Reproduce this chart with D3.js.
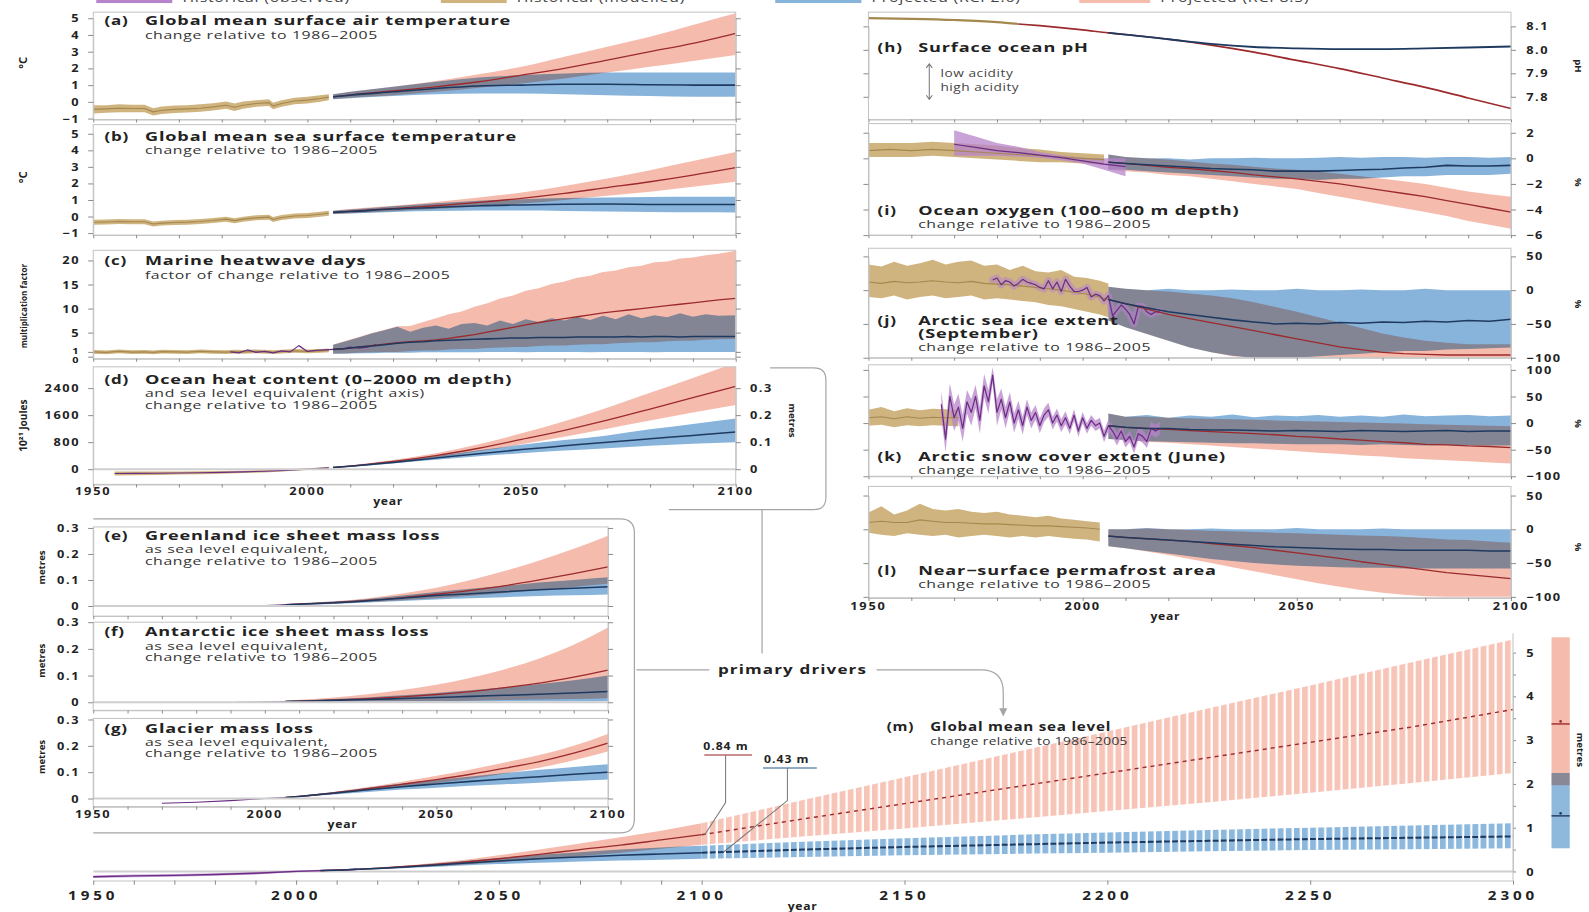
<!DOCTYPE html>
<html><head><meta charset="utf-8">
<script src="https://cdn.jsdelivr.net/npm/d3@7"></script>
<style>
html,body{margin:0;padding:0;background:#fff;overflow:hidden}
text{font-family:"Open Sans","Noto Sans",sans-serif}
</style></head><body>
<script>
// ---------------- DATA ----------------
const legendLabels=['Historical (observed)','Historical (modelled)','Projected (RCP2.6)','Projected (RCP8.5)'];
const histYears=[1950,1953,1956,1959,1962,1964,1966,1969,1972,1975,1978,1981,1983,1985,1988,1991,1992,1994,1997,2000,2003,2005];
const histYears5=[1950,1955,1960,1965,1970,1975,1980,1985,1990,1995,2000,2005];
const projYears10=[2006,2010,2020,2030,2040,2050,2060,2070,2080,2090,2100];
const projYears5=[2006,2010,2015,2020,2025,2030,2035,2040,2045,2050,2055,2060,2065,2070,2075,2080,2085,2090,2095,2100];
const xTickYears=[1950,2000,2050,2100];
const mTickYears=[1950,2000,2050,2100,2150,2200,2250,2300];

// (a) surface air temperature
const a_histMid=[-0.45,-0.42,-0.38,-0.4,-0.4,-0.6,-0.5,-0.45,-0.42,-0.38,-0.3,-0.2,-0.32,-0.2,-0.1,-0.05,-0.25,-0.1,0.05,0.1,0.2,0.28];
const a_histLo=[-0.7,-0.65,-0.62,-0.63,-0.62,-0.82,-0.72,-0.66,-0.64,-0.6,-0.52,-0.42,-0.55,-0.42,-0.3,-0.25,-0.45,-0.3,-0.15,-0.1,0.0,0.1];
const a_histHi=[-0.2,-0.2,-0.15,-0.18,-0.18,-0.38,-0.28,-0.22,-0.2,-0.15,-0.08,0.02,-0.1,0.02,0.1,0.15,-0.05,0.1,0.25,0.3,0.4,0.45];
const a_26Mid=[0.3,0.4,0.6,0.8,0.95,1.0,1.05,1.05,1.02,1.0,1.0];
const a_26Lo=[0.15,0.22,0.35,0.45,0.5,0.5,0.45,0.4,0.35,0.3,0.3];
const a_26Hi=[0.45,0.6,0.9,1.2,1.45,1.6,1.7,1.75,1.75,1.75,1.75];
const a_85Mid=[0.3,0.42,0.65,0.9,1.2,1.6,2.0,2.5,3.0,3.5,4.1];
const a_85Lo=[0.15,0.25,0.4,0.6,0.85,1.1,1.4,1.75,2.1,2.45,2.8];
const a_85Hi=[0.45,0.6,0.9,1.25,1.65,2.1,2.7,3.3,3.9,4.6,5.3];
// (b) sea surface temperature
const b_histMid=[-0.35,-0.33,-0.3,-0.32,-0.32,-0.45,-0.4,-0.36,-0.34,-0.3,-0.24,-0.16,-0.25,-0.16,-0.08,-0.04,-0.18,-0.06,0.03,0.06,0.14,0.2];
const b_histLo=[-0.5,-0.48,-0.45,-0.47,-0.47,-0.6,-0.55,-0.51,-0.49,-0.45,-0.39,-0.31,-0.4,-0.31,-0.23,-0.19,-0.33,-0.21,-0.12,-0.09,-0.01,0.05];
const b_histHi=[-0.2,-0.18,-0.15,-0.17,-0.17,-0.3,-0.25,-0.21,-0.19,-0.15,-0.09,-0.01,-0.1,-0.01,0.07,0.11,-0.03,0.09,0.18,0.21,0.29,0.35];
const b_26Mid=[0.25,0.3,0.45,0.55,0.65,0.7,0.74,0.75,0.73,0.72,0.72];
const b_26Lo=[0.15,0.18,0.28,0.33,0.36,0.36,0.34,0.3,0.28,0.26,0.25];
const b_26Hi=[0.35,0.42,0.62,0.8,0.95,1.05,1.12,1.15,1.18,1.2,1.2];
const b_85Mid=[0.25,0.32,0.48,0.65,0.85,1.1,1.4,1.75,2.1,2.5,2.95];
const b_85Lo=[0.15,0.2,0.32,0.45,0.6,0.78,1.0,1.25,1.5,1.8,2.1];
const b_85Hi=[0.35,0.45,0.65,0.88,1.15,1.45,1.85,2.3,2.8,3.35,3.9];
// (c) marine heatwave days
const c_histMid=[1.0,0.9,1.1,0.95,1.0,0.9,1.05,1.0,0.95,1.1,1.0,0.95,1.05,1.0,1.1,1.0,0.95,1.05,1.2,1.1,1.2,1.3];
const c_histLo=[0.6,0.5,0.7,0.55,0.6,0.5,0.65,0.6,0.55,0.7,0.6,0.55,0.65,0.6,0.7,0.6,0.55,0.65,0.8,0.7,0.8,0.9];
const c_histHi=[1.4,1.3,1.5,1.35,1.4,1.3,1.45,1.4,1.35,1.5,1.4,1.35,1.45,1.4,1.5,1.4,1.35,1.45,1.6,1.5,1.6,1.7];
const c_obsYears=[1982,1984,1986,1988,1990,1992,1994,1996,1998,2000,2002,2004,2006,2008,2010,2012,2014,2016];
const c_obsVals=[1.0,0.8,1.4,0.9,1.1,0.8,1.2,1.0,2.3,1.1,1.3,1.4,1.5,1.6,2.0,1.8,2.0,2.5];
const c_projYears=[2006,2009,2012,2015,2018,2021,2024,2027,2030,2033,2036,2039,2042,2045,2048,2051,2054,2057,2060,2063,2066,2069,2072,2075,2078,2081,2084,2087,2090,2093,2096,2100];
const c_26Mid=[1.5,1.7,2.0,2.2,2.5,2.8,3.0,3.1,3.3,3.4,3.5,3.6,3.7,3.8,3.9,3.9,4.0,4.0,4.0,4.1,4.1,4.1,4.1,4.2,4.1,4.2,4.2,4.1,4.2,4.2,4.2,4.2];
const c_26Lo=[0.6,0.6,0.7,0.7,0.8,0.8,0.8,0.9,0.9,0.9,0.9,0.9,1.0,1.0,1.0,0.9,1.0,1.0,1.0,1.0,0.9,1.0,1.0,1.0,1.0,0.9,1.0,1.0,1.0,1.0,1.0,1.0];
const c_26Hi=[2.5,3.2,4.0,4.8,5.5,6.2,5.2,6.0,6.5,5.8,6.8,7.0,6.5,7.5,6.8,7.8,7.2,8.0,7.5,8.3,7.6,8.5,7.8,8.8,8.0,8.6,8.2,9.0,8.3,8.8,8.5,8.6];
const c_85Mid=[1.5,1.7,2.0,2.3,2.6,2.9,3.1,3.3,3.5,3.8,4.2,4.6,5.1,5.6,6.1,6.6,7.1,7.5,7.9,8.3,8.7,9.1,9.4,9.7,10.0,10.3,10.6,10.9,11.2,11.5,11.8,12.1];
const c_85Lo=[0.6,0.7,0.8,0.9,1.0,1.0,1.2,1.3,1.3,1.5,1.6,1.6,1.8,1.9,2.0,2.0,2.2,2.3,2.3,2.5,2.6,2.6,2.8,2.9,3.0,3.0,3.2,3.3,3.3,3.5,3.6,3.7];
const c_85Hi=[2.5,3.3,4.1,4.9,5.6,6.3,6.4,7.2,8.0,8.8,9.4,10.4,11.1,12.1,12.7,13.7,14.2,15.1,15.6,16.4,16.8,17.6,17.9,18.6,18.9,19.6,19.8,20.4,20.6,21.1,21.4,22.0];
// (d) ocean heat content
const d_histYears=[1955,1960,1965,1970,1975,1980,1985,1990,1995,2000,2005];
const d_histMid=[-130,-125,-120,-115,-105,-95,-80,-60,-35,0,40];
const d_histLo=[-190,-180,-170,-160,-150,-135,-115,-95,-65,-25,15];
const d_histHi=[-70,-70,-70,-70,-60,-55,-45,-25,-5,25,65];
const d_26Mid=[50,90,200,330,460,580,690,800,900,1000,1100];
const d_26Lo=[30,70,170,280,380,470,550,620,690,750,800];
const d_26Hi=[70,110,240,390,560,720,860,1000,1180,1340,1500];
const d_85Mid=[50,90,230,400,620,880,1150,1450,1780,2120,2450];
const d_85Lo=[30,70,200,350,530,740,960,1200,1440,1680,1900];
const d_85Hi=[70,115,270,470,740,1060,1420,1820,2260,2700,3150];
// (e) Greenland
const e_histYears=[1992,1996,2000,2004,2006];
const e_histMid=[0.0,0.0,0.002,0.004,0.005];
const e_26Mid=[0.005,0.007,0.012,0.02,0.03,0.04,0.047,0.055,0.062,0.068,0.074];
const e_26Lo=[0.003,0.004,0.008,0.013,0.019,0.025,0.03,0.034,0.038,0.041,0.044];
const e_26Hi=[0.007,0.01,0.017,0.027,0.04,0.054,0.066,0.078,0.09,0.1,0.11];
const e_85Mid=[0.005,0.007,0.013,0.021,0.032,0.045,0.06,0.078,0.1,0.124,0.15];
const e_85Lo=[0.003,0.005,0.009,0.015,0.022,0.03,0.039,0.05,0.062,0.073,0.085];
const e_85Hi=[0.007,0.01,0.018,0.03,0.048,0.07,0.1,0.135,0.175,0.22,0.27];
// (f) Antarctic
const f_histYears=[1992,1996,2000,2004,2006];
const f_histMid=[0.0,0.0,0.001,0.002,0.003];
const f_26Mid=[0.003,0.004,0.007,0.01,0.014,0.018,0.022,0.026,0.03,0.035,0.04];
const f_26Lo=[0.001,0.001,0.002,0.002,0.003,0.003,0.003,0.004,0.004,0.004,0.005];
const f_26Hi=[0.005,0.007,0.012,0.018,0.026,0.035,0.045,0.056,0.068,0.082,0.1];
const f_85Mid=[0.003,0.004,0.008,0.013,0.02,0.029,0.04,0.055,0.072,0.094,0.12];
const f_85Lo=[0.001,0.001,0.002,0.003,0.004,0.005,0.006,0.008,0.01,0.012,0.015];
const f_85Hi=[0.006,0.009,0.018,0.03,0.046,0.066,0.092,0.124,0.164,0.215,0.28];
// (g) glaciers
const g_histYears=[1970,1980,1990,2000,2006];
const g_histMid=[-0.018,-0.014,-0.008,0.0,0.004];
const g_26Mid=[0.004,0.008,0.02,0.033,0.045,0.055,0.065,0.074,0.083,0.092,0.1];
const g_26Lo=[0.003,0.006,0.015,0.025,0.034,0.041,0.048,0.054,0.06,0.066,0.072];
const g_26Hi=[0.005,0.01,0.025,0.041,0.057,0.071,0.084,0.097,0.109,0.12,0.13];
const g_85Mid=[0.004,0.008,0.021,0.037,0.054,0.072,0.092,0.115,0.14,0.172,0.21];
const g_85Lo=[0.003,0.006,0.017,0.03,0.044,0.058,0.075,0.095,0.117,0.145,0.178];
const g_85Hi=[0.005,0.01,0.025,0.044,0.064,0.086,0.11,0.137,0.165,0.2,0.245];
// (h) pH
const h_histYears=[1950,1960,1970,1980,1985];
const h_histMid=[8.135,8.132,8.127,8.118,8.11];
const h_85Years=[1985,1990,2000,2006,2010,2020,2030,2040,2050,2060,2070,2080,2090,2100];
const h_85Mid=[8.11,8.103,8.085,8.072,8.065,8.045,8.02,7.99,7.955,7.92,7.88,7.84,7.795,7.75];
const h_26Mid=[8.072,8.065,8.045,8.025,8.012,8.006,8.003,8.003,8.006,8.01,8.014];
// (i) oxygen
const i_histMid=[0.6,0.7,0.6,0.7,0.6,0.5,0.4,0.3,0.2,0.1,0.0,-0.1];
const i_histLo=[0.1,0.1,0.1,0.2,0.1,0.0,-0.1,-0.2,-0.3,-0.3,-0.4,-0.5];
const i_histHi=[1.2,1.2,1.2,1.3,1.2,1.1,1.0,0.8,0.7,0.5,0.4,0.3];
const i_obsYears=[1970,1975,1980,1985,1990,1995,2000,2005,2010];
const i_obsMid=[1.1,0.85,0.6,0.45,0.25,0.05,-0.2,-0.45,-0.65];
const i_obsLo=[0.2,0.2,0.2,0.15,0.05,-0.15,-0.4,-0.9,-1.4];
const i_obsHi=[2.2,1.7,1.2,0.9,0.5,0.25,0.05,0.0,0.0];
const i_26Mid=[-0.3,-0.4,-0.5,-0.6,-0.7,-0.8,-0.85,-0.9,-1.0,-1.0,-1.0,-0.95,-0.9,-0.85,-0.75,-0.7,-0.55,-0.6,-0.6,-0.55];
const i_26Lo=[-0.9,-0.9,-1.0,-1.1,-1.2,-1.3,-1.4,-1.5,-1.6,-1.6,-1.7,-1.6,-1.6,-1.5,-1.4,-1.4,-1.3,-1.3,-1.3,-1.2];
const i_26Hi=[0.3,0.1,0.0,0.0,-0.1,0.0,0.0,0.05,0.0,0.0,0.05,0.1,0.05,0.1,0.1,0.05,0.1,0.1,0.05,0.1];
const i_85Mid=[-0.3,-0.4,-0.55,-0.7,-0.8,-0.95,-1.1,-1.3,-1.45,-1.6,-1.8,-2.0,-2.25,-2.5,-2.75,-3.0,-3.3,-3.6,-3.9,-4.2];
const i_85Lo=[-0.9,-1.0,-1.1,-1.3,-1.4,-1.6,-1.8,-2.0,-2.2,-2.4,-2.7,-3.0,-3.3,-3.6,-3.9,-4.2,-4.5,-4.9,-5.2,-5.5];
const i_85Hi=[0.3,0.1,0.0,-0.1,-0.25,-0.4,-0.5,-0.65,-0.8,-0.9,-1.05,-1.2,-1.4,-1.6,-1.8,-2.0,-2.3,-2.6,-2.8,-3.0];
// (j) Arctic sea ice
const j_histYears=[1950,1953,1956,1959,1962,1965,1968,1971,1974,1977,1980,1983,1986,1989,1992,1995,1998,2001,2004,2006];
const j_histMid=[12,10,13,11,12,14,12,11,13,10,9,8,6,4,2,0,-3,-6,-10,-14];
const j_histLo=[-10,-12,-8,-14,-10,-8,-12,-10,-8,-14,-12,-14,-16,-18,-22,-24,-28,-32,-36,-40];
const j_histHi=[38,35,42,36,40,45,38,42,44,36,38,30,36,28,26,30,20,18,14,10];
const j_obsYears=d3.range(1979,2019);
const j_obsVals=[15,18,8,14,12,6,10,16,12,10,8,4,2,14,2,12,-2,16,6,-2,-2,0,4,-10,-6,-8,-16,-8,-38,-30,-22,-28,-36,-50,-24,-24,-32,-36,-32,-32];
const j_26Mid=[-14,-20,-26,-32,-36,-40,-44,-47,-50,-49,-50,-48,-49,-47,-48,-46,-47,-45,-46,-43];
const j_26Lo=[-45,-55,-65,-75,-85,-92,-97,-100,-100,-100,-98,-96,-94,-92,-90,-90,-88,-87,-86,-85];
const j_26Hi=[5,2,0,2,0,0,1,0,0,2,0,0,1,0,0,2,0,0,0,0];
const j_85Mid=[-14,-20,-28,-36,-42,-48,-54,-60,-66,-72,-78,-84,-88,-92,-94,-95,-96,-96,-96,-96];
const j_85Lo=[-45,-55,-65,-75,-85,-92,-98,-100,-100,-100,-100,-100,-100,-100,-100,-100,-100,-100,-100,-100];
const j_85Hi=[5,2,0,-2,-5,-8,-12,-18,-25,-32,-40,-48,-56,-64,-70,-75,-78,-80,-80,-80];
// (k) Arctic snow cover
const k_histYears=[1950,1953,1956,1959,1962,1965,1968,1971];
const k_histMid=[10,12,8,12,9,11,10,10];
const k_histLo=[-5,-3,-8,-4,-6,-4,-5,-6];
const k_histHi=[25,30,22,28,24,27,26,24];
const k_obsYears=d3.range(1967,2019);
const k_obsVals=[35,-30,50,10,30,-10,40,20,50,5,70,40,90,20,45,10,40,0,25,-5,30,5,20,-5,15,25,0,15,-5,10,-10,15,-15,10,-10,5,-5,0,-25,-5,-15,-30,-15,-35,-25,-45,-20,-25,-35,-10,-15,-10];
const k_obsHi=[60,-5,75,35,55,15,62,45,72,30,92,62,105,45,65,30,58,18,42,12,45,20,34,9,28,38,12,27,7,22,1,26,-4,21,0,15,5,10,-14,6,-4,-18,-4,-24,-14,-33,-8,-13,-23,2,-3,2];
const k_obsLo=[10,-55,25,-15,5,-35,18,-5,28,-20,48,18,75,-5,25,-10,22,-18,8,-22,15,-10,6,-19,2,12,-12,3,-17,-2,-21,4,-26,-1,-20,-5,-15,-10,-36,-16,-26,-42,-26,-46,-36,-57,-32,-37,-47,-22,-27,-22];
const k_26Mid=[-5,-8,-10,-10,-12,-13,-13,-14,-15,-14,-15,-16,-14,-15,-16,-15,-14,-16,-15,-15];
const k_26Lo=[-30,-32,-34,-35,-36,-37,-38,-38,-39,-40,-40,-40,-41,-40,-41,-42,-41,-42,-42,-42];
const k_26Hi=[18,12,15,10,14,12,16,11,14,13,15,12,14,12,16,13,14,15,13,14];
const k_85Mid=[-5,-8,-10,-12,-14,-16,-18,-20,-22,-25,-27,-30,-32,-35,-37,-40,-41,-43,-44,-46];
const k_85Lo=[-30,-32,-35,-37,-40,-42,-45,-48,-50,-53,-56,-58,-61,-63,-66,-68,-70,-72,-74,-76];
const k_85Hi=[18,12,12,10,9,8,7,6,5,4,3,2,1,0,-1,-2,-3,-4,-5,-6];
// (l) permafrost
const l_histYears=[1950,1953,1956,1959,1962,1965,1968,1971,1974,1977,1980,1983,1986,1989,1992,1995,1998,2001,2004];
const l_histMid=[10,12,10,10,14,12,10,10,9,8,8,7,6,5,5,4,3,2,0];
const l_histLo=[-5,-8,-10,-6,-8,-10,-8,-12,-10,-8,-10,-12,-10,-12,-10,-12,-14,-15,-18];
const l_histHi=[25,34,22,28,38,30,28,30,26,24,26,22,20,18,20,16,14,12,10];
const l_26Mid=[-10,-12,-14,-16,-18,-20,-22,-24,-26,-27,-28,-29,-30,-30,-31,-31,-31,-31,-32,-32];
const l_26Lo=[-25,-28,-32,-36,-40,-44,-47,-50,-52,-54,-55,-56,-57,-57,-58,-58,-58,-58,-58,-58];
const l_26Hi=[0,0,2,0,0,1,0,0,0,2,0,0,0,1,0,0,0,0,0,0];
const l_85Mid=[-10,-12,-14,-16,-18,-21,-24,-27,-31,-35,-39,-43,-48,-52,-56,-60,-64,-67,-70,-73];
const l_85Lo=[-25,-28,-33,-38,-44,-50,-56,-62,-68,-74,-80,-85,-90,-94,-97,-99,-100,-100,-100,-100];
const l_85Hi=[0,0,1,0,-1,-2,-3,-4,-5,-6,-7,-8,-9,-10,-11,-13,-15,-16,-18,-20];
// (m) global mean sea level
const m_obsYears=[1950,1960,1970,1980,1990,2000,2010,2015];
const m_obsMid=[-0.12,-0.1,-0.09,-0.07,-0.04,0.0,0.03,0.05];
const m_obsLo=[-0.15,-0.13,-0.12,-0.1,-0.07,-0.02,0.01,0.03];
const m_obsHi=[-0.09,-0.07,-0.06,-0.04,-0.01,0.02,0.05,0.07];
const m_26Mid=[0.02,0.03,0.07,0.12,0.18,0.24,0.29,0.33,0.37,0.4,0.43];
const m_26Lo=[0.01,0.02,0.05,0.09,0.13,0.17,0.2,0.23,0.25,0.27,0.29];
const m_26Hi=[0.03,0.04,0.09,0.15,0.23,0.31,0.38,0.44,0.5,0.55,0.59];
const m_85Mid=[0.02,0.03,0.07,0.13,0.2,0.29,0.39,0.5,0.6,0.72,0.84];
const m_85Lo=[0.01,0.02,0.05,0.1,0.15,0.21,0.28,0.35,0.43,0.52,0.61];
const m_85Hi=[0.03,0.04,0.09,0.16,0.25,0.37,0.5,0.64,0.78,0.93,1.1];
const m_longYears=[2100,2125,2150,2175,2200,2225,2250,2275,2300];
const m_85LongMid=[0.84,1.2,1.55,1.9,2.25,2.6,2.95,3.3,3.7];
const m_85LongLo=[0.61,0.8,0.98,1.18,1.38,1.58,1.8,2.02,2.25];
const m_85LongHi=[1.1,1.63,2.15,2.68,3.2,3.73,4.25,4.78,5.3];
const m_26LongMid=[0.43,0.5,0.56,0.61,0.66,0.7,0.74,0.77,0.8];
const m_26LongLo=[0.29,0.33,0.37,0.4,0.43,0.46,0.49,0.51,0.53];
const m_26LongHi=[0.59,0.68,0.76,0.83,0.89,0.95,1.0,1.05,1.1];
const m_labels2100=['0.84 m','0.43 m'];
const barScen=['RCP8.5','RCP2.6'];
const barLo=[1.97,0.53];
const barHi=[5.35,2.25];
const barMid=[3.37,1.27];

// ---------------- DRAWING ----------------
const svg=d3.select('body').append('svg').attr('width',1589).attr('height',912)
  .attr('viewBox','0 0 1568 900').attr('preserveAspectRatio','none');
svg.append('rect').attr('width',1568).attr('height',900).attr('fill','#fff');
const defs=svg.append('defs');
let clipN=0;
const COL={red:'#f5bcae',redL:'#9c2a2c',blue:'#88b4db',blueL:'#1f3a60',tan:'#cfb47f',tanL:'#a5884e',
  pur:'#b784cb',purL:'#6b2c82',frame:'#c3c3c3',tick:'#8c8c8c',txt:'#222',line:'#9a9a9a'};

function T(parent,x,y,str,o={}){
  const sx=o.sx??1.25;
  const rot=o.rot?` rotate(${o.rot})`:'';
  return parent.append('text')
    .attr('transform',`translate(${x},${y})${rot} scale(${sx},1)`)
    .attr('text-anchor',o.anchor||'start')
    .attr('font-size',o.fs||10.5)
    .attr('font-weight',o.fw||'normal')
    .attr('fill',o.fill||COL.txt)
    .style('letter-spacing',(o.ls??0.4)+'px')
    .text(str);
}
function styleAxis(sel){
  sel.select('.domain').attr('stroke',COL.frame);
  sel.selectAll('.tick line').attr('stroke',COL.tick);
}
const fmtInt=d3.format('d');
const fmt1=v=>v===0?'0':d3.format('.1f')(v);
const TICKLAB={fs:10.5,fw:'bold',ls:1.3,sx:1.2};

function panel(o){
  const x=d3.scaleLinear().domain(o.xd||[1950,2100]).range([o.x0,o.x1]);
  const y=d3.scaleLinear().domain(o.yd).range(o.yr);
  const id='cp'+(clipN++);
  defs.append('clipPath').attr('id',id).append('rect')
    .attr('x',o.x0).attr('y',o.y0).attr('width',o.x1-o.x0).attr('height',o.y1-o.y0);
  const g=svg.append('g');
  const plot=g.append('g').attr('clip-path',`url(#${id})`).style('isolation','isolate');
  const frame=g.append('g');
  if(o.zero){
    frame.append('line').attr('x1',o.x0).attr('x2',o.x1).attr('y1',y(0)).attr('y2',y(0))
      .attr('stroke','#cfcfcf').attr('stroke-width',2);
  }
  frame.append('rect').attr('x',o.x0).attr('y',o.y0).attr('width',o.x1-o.x0).attr('height',o.y1-o.y0)
    .attr('fill','none').attr('stroke',COL.frame).attr('stroke-width',1);
  frame.append('g').attr('transform',`translate(0,${o.y1})`)
    .call(d3.axisBottom(x).tickValues(d3.range(1950,2101,10)).tickSize(3).tickSizeOuter(0).tickFormat(''))
    .call(styleAxis);
  frame.append('g').attr('transform',`translate(${o.x0},0)`)
    .call(d3.axisLeft(y).tickValues(o.ticks).tickSize(5).tickSizeOuter(0).tickFormat('')).call(styleAxis);
  frame.append('g').attr('transform',`translate(${o.x1},0)`)
    .call(d3.axisRight(y).tickValues(o.ticks).tickSize(5).tickSizeOuter(0).tickFormat('')).call(styleAxis);
  const lab=frame.append('g');
  o.ticks.forEach(v=>{
    const dy=(o.labDy&&o.labDy[v])||0;
    const st=Object.assign({},TICKLAB,(o.labFs&&o.labFs[v])?{fs:o.labFs[v]}:{});
    if(o.side==='right') T(lab,o.x1+15,y(v)+4+dy,o.fmt(v),st);
    else T(lab,o.x0-13,y(v)+4+dy,o.fmt(v),Object.assign({anchor:'end'},st));
  });
  if(o.xlab){
    xTickYears.forEach(v=>T(lab,x(v),o.y1+o.xlab,String(v),{fs:10.5,fw:'bold',ls:1.5,sx:1.2,anchor:'middle'}));
    T(lab,o.yearX,o.y1+o.xlab+10,'year',{fs:10,fw:'bold',ls:0.6,sx:1.2,anchor:'middle'});
  }
  return {x,y,g,plot,frame};
}
function area(p,xs,lo,hi,fill,o={}){
  const a=d3.area().x((d,i)=>p.x(xs[i])).y0((d,i)=>p.y(lo[i])).y1((d,i)=>p.y(hi[i])).curve(o.curve||d3.curveLinear);
  const path=(o.parent||p.plot).append('path').datum(xs).attr('d',a).attr('fill',fill);
  if(o.blend) path.style('mix-blend-mode',o.blend);
  if(o.op) path.attr('fill-opacity',o.op);
  return path;
}
function line(p,xs,ys,stroke,o={}){
  const l=d3.line().x((d,i)=>p.x(xs[i])).y((d,i)=>p.y(ys[i])).curve(o.curve||d3.curveLinear);
  return (o.parent||p.plot).append('path').datum(xs).attr('d',l).attr('fill','none')
    .attr('stroke',stroke).attr('stroke-width',o.w||1.3).attr('stroke-opacity',o.op||1)
    .attr('stroke-linejoin','round').attr('stroke-linecap',o.cap||'butt').attr('stroke-dasharray',o.dash||null);
}
function drawSet(p,s){
  const cv=s.curve||d3.curveMonotoneX;
  if(s.hist&&s.hist.lo) area(p,s.hist.x,s.hist.lo,s.hist.hi,COL.tan);
  if(s.p85&&s.p85.lo) area(p,s.px,s.p85.lo,s.p85.hi,COL.red,{curve:cv});
  if(s.p26&&s.p26.lo) area(p,s.px,s.p26.lo,s.p26.hi,COL.blue,{curve:cv,blend:'multiply'});
  if(s.obs&&s.obs.lo) area(p,s.obs.x,s.obs.lo,s.obs.hi,COL.pur,{op:0.75});
  if(s.obs&&s.obs.thick) line(p,s.obs.x,s.obs.mid,COL.pur,{w:s.obs.thick,op:0.55,cap:'round'});
  if(s.hist) line(p,s.hist.x,s.hist.mid,s.hist.col||COL.tanL,{w:1.1});
  if(s.obs) line(p,s.obs.x,s.obs.mid,COL.purL,{w:1.2});
  if(s.p85) line(p,s.p85x||s.px,s.p85.mid,COL.redL,{curve:cv,w:1.3});
  if(s.p26) line(p,s.p26x||s.px,s.p26.mid,COL.blueL,{curve:cv,w:1.5});
}
function titles(x,y,label,bold,subs){
  const g=svg.append('g');
  T(g,x,y,label,{fs:12.5,fw:'bold',ls:0.6,sx:1.34});
  bold.forEach((s,i)=>T(g,x+40,y+i*12.5,s,{fs:12.5,fw:'bold',ls:0.6,sx:1.43}));
  const y2=y+(bold.length-1)*12.5;
  subs.forEach((s,i)=>T(g,x+40,y2+13+i*11.5,s,{fs:10.5,ls:0.4,sx:1.49,fill:'#333'}));
}
function unitL(x,y,s,fs){T(svg,x,y,s,{fs:fs||9.5,rot:-90,anchor:'middle',sx:1,ls:0,fw:'bold'});}
function unitR(x,y,s,fs){T(svg,x,y,s,{fs:fs||9.5,rot:90,anchor:'middle',sx:1,ls:0,fw:'bold'});}

// legend (cut off at top)
const legX=[95,435,765,1065],legW=[75,65,85,70],legC=[COL.pur,COL.tan,COL.blue,COL.red];
legendLabels.forEach((s,i)=>{
  svg.append('rect').attr('x',legX[i]).attr('y',-9).attr('width',legW[i]).attr('height',12).attr('fill',legC[i]);
  T(svg,legX[i]+legW[i]+10,1.5,s,{fs:12,ls:0.6,sx:1.3,fill:'#444'});
});

const LX0=92,LX1=726,RX0=857,RX1=1491;
// (a)
const pa=panel({x0:LX0,x1:LX1,y0:12,y1:118,yd:[-1,5],yr:[117,18],ticks:[-1,0,1,2,3,4,5],fmt:fmtInt});
drawSet(pa,{hist:{x:histYears,mid:a_histMid,lo:a_histLo,hi:a_histHi},px:projYears10,
  p26:{mid:a_26Mid,lo:a_26Lo,hi:a_26Hi},p85:{mid:a_85Mid,lo:a_85Lo,hi:a_85Hi}});
titles(103,25,'(a)',['Global mean surface air temperature'],['change relative to 1986–2005']);
unitL(27,62,'°C',11);
// (b)
const pb=panel({x0:LX0,x1:LX1,y0:123,y1:232,yd:[-1,5],yr:[230,132],ticks:[-1,0,1,2,3,4,5],fmt:fmtInt});
drawSet(pb,{hist:{x:histYears,mid:b_histMid,lo:b_histLo,hi:b_histHi},px:projYears10,
  p26:{mid:b_26Mid,lo:b_26Lo,hi:b_26Hi},p85:{mid:b_85Mid,lo:b_85Lo,hi:b_85Hi}});
titles(103,139,'(b)',['Global mean sea surface temperature'],['change relative to 1986–2005']);
unitL(27,175,'°C',11);
// (c)
const pc=panel({x0:LX0,x1:LX1,y0:247,y1:354,yd:[0,20],yr:[352,257],ticks:[0,1,5,10,15,20],fmt:fmtInt,
  labDy:{0:2,1:-1.5},labFs:{0:9,1:9}});
drawSet(pc,{hist:{x:histYears,mid:c_histMid,lo:c_histLo,hi:c_histHi},px:c_projYears,curve:d3.curveLinear,
  obs:{x:c_obsYears,mid:c_obsVals},
  p26:{mid:c_26Mid,lo:c_26Lo,hi:c_26Hi},p85:{mid:c_85Mid,lo:c_85Lo,hi:c_85Hi}});
titles(103,262,'(c)',['Marine heatwave days'],['factor of change relative to 1986–2005']);
T(svg,27,302,'multiplication factor',{fs:9.5,rot:-90,anchor:'middle',sx:0.85,ls:0,fw:'bold'});
// (d)
const pd=panel({x0:LX0,x1:LX1,y0:362,y1:478,yd:[0,2400],yr:[463,383],ticks:[0,800,1600,2400],fmt:fmtInt,xlab:10,yearX:383,zero:true});
drawSet(pd,{hist:{x:d_histYears,mid:d_histMid,lo:d_histLo,hi:d_histHi,col:COL.purL},px:projYears10,
  p26:{mid:d_26Mid,lo:d_26Lo,hi:d_26Hi},p85:{mid:d_85Mid,lo:d_85Lo,hi:d_85Hi}});
const yd2=d3.scaleLinear().domain([0,0.3]).range([463,383]);
[0,0.1,0.2,0.3].forEach(v=>T(svg,LX1+14,yd2(v)+4,fmt1(v),TICKLAB));
titles(103,379,'(d)',['Ocean heat content (0–2000 m depth)'],['and sea level equivalent (right axis)','change relative to 1986–2005']);
unitL(27,420,'10²¹ Joules',10);
unitR(779,415,'metres',9.5);

// (e)-(g)
const EX1=600;
const pe=panel({x0:LX0,x1:EX1,y0:520,y1:608,yd:[0,0.3],yr:[598,521],ticks:[0,0.1,0.2,0.3],fmt:fmt1,zero:true});
drawSet(pe,{hist:{x:e_histYears,mid:e_histMid,col:COL.purL},px:projYears10,
  p26:{mid:e_26Mid,lo:e_26Lo,hi:e_26Hi},p85:{mid:e_85Mid,lo:e_85Lo,hi:e_85Hi}});
titles(103,533,'(e)',['Greenland ice sheet mass loss'],['as sea level equivalent,','change relative to 1986–2005']);
unitL(44,560,'metres');
const pf=panel({x0:LX0,x1:EX1,y0:614,y1:701,yd:[0,0.3],yr:[693,614],ticks:[0,0.1,0.2,0.3],fmt:fmt1,zero:true});
drawSet(pf,{hist:{x:f_histYears,mid:f_histMid,col:COL.purL},px:projYears10,
  p26:{mid:f_26Mid,lo:f_26Lo,hi:f_26Hi},p85:{mid:f_85Mid,lo:f_85Lo,hi:f_85Hi}});
titles(103,628,'(f)',['Antarctic ice sheet mass loss'],['as sea level equivalent,','change relative to 1986–2005']);
unitL(44,652,'metres');
const pg=panel({x0:LX0,x1:EX1,y0:709,y1:796,yd:[0,0.3],yr:[788,710],ticks:[0,0.1,0.2,0.3],fmt:fmt1,zero:true,xlab:11,yearX:338});
drawSet(pg,{hist:{x:g_histYears,mid:g_histMid,col:COL.purL},px:projYears10,
  p26:{mid:g_26Mid,lo:g_26Lo,hi:g_26Hi},p85:{mid:g_85Mid,lo:g_85Lo,hi:g_85Hi}});
titles(103,723,'(g)',['Glacier mass loss'],['as sea level equivalent,','change relative to 1986–2005']);
unitL(44,747,'metres');

// right column
const ph=panel({x0:RX0,x1:RX1,y0:12,y1:118,yd:[7.8,8.1],yr:[95.5,26],ticks:[7.8,7.9,8.0,8.1],fmt:d3.format('.1f'),side:'right'});
line(ph,h_histYears,h_histMid,COL.tanL,{w:2.2,curve:d3.curveMonotoneX});
line(ph,h_85Years,h_85Mid,COL.redL,{w:1.6,curve:d3.curveMonotoneX});
line(ph,projYears10,h_26Mid,COL.blueL,{w:1.8,curve:d3.curveMonotoneX});
titles(866,51,'(h)',['Surface ocean pH'],[]);
const acid=svg.append('g').attr('stroke','#777').attr('fill','none').attr('stroke-width',1);
acid.append('path').attr('d','M917,63V98 M914,67L917,63L920,67 M914,94L917,98L920,94');
T(svg,928,76,'low acidity',{fs:10,sx:1.35,fill:'#444'});
T(svg,928,90,'high acidity',{fs:10,sx:1.35,fill:'#444'});
unitR(1554,65,'pH');

const pi=panel({x0:RX0,x1:RX1,y0:122,y1:232,yd:[-6,2],yr:[232,131],ticks:[-6,-4,-2,0,2],fmt:fmtInt,side:'right'});
drawSet(pi,{hist:{x:histYears5,mid:i_histMid,lo:i_histLo,hi:i_histHi},px:projYears5,curve:d3.curveLinear,
  obs:{x:i_obsYears,mid:i_obsMid,lo:i_obsLo,hi:i_obsHi},
  p26:{mid:i_26Mid,lo:i_26Lo,hi:i_26Hi},p85:{mid:i_85Mid,lo:i_85Lo,hi:i_85Hi}});
titles(866,212,'(i)',['Ocean oxygen (100–600 m depth)'],['change relative to 1986–2005']);
unitR(1554,180,'%');

const pj=panel({x0:RX0,x1:RX1,y0:245,y1:353,yd:[-100,50],yr:[353,253],ticks:[-100,-50,0,50],fmt:fmtInt,side:'right'});
drawSet(pj,{hist:{x:j_histYears,mid:j_histMid,lo:j_histLo,hi:j_histHi},px:projYears5,curve:d3.curveLinear,
  obs:{x:j_obsYears,mid:j_obsVals,thick:7},
  p26:{mid:j_26Mid,lo:j_26Lo,hi:j_26Hi},p85:{mid:j_85Mid,lo:j_85Lo,hi:j_85Hi}});
titles(866,321,'(j)',['Arctic sea ice extent','(September)'],['change relative to 1986–2005']);
unitR(1554,300,'%');

const pk=panel({x0:RX0,x1:RX1,y0:360,y1:470,yd:[-100,100],yr:[470,365],ticks:[-100,-50,0,50,100],fmt:fmtInt,side:'right'});
drawSet(pk,{hist:{x:k_histYears,mid:k_histMid,lo:k_histLo,hi:k_histHi},px:projYears5,curve:d3.curveLinear,
  obs:{x:k_obsYears,mid:k_obsVals,lo:k_obsLo,hi:k_obsHi},
  p26:{mid:k_26Mid,lo:k_26Lo,hi:k_26Hi},p85:{mid:k_85Mid,lo:k_85Lo,hi:k_85Hi}});
titles(866,455,'(k)',['Arctic snow cover extent (June)'],['change relative to 1986–2005']);
unitR(1554,418,'%');

const pl=panel({x0:RX0,x1:RX1,y0:480,y1:590,yd:[-100,50],yr:[589,489],ticks:[-100,-50,0,50],fmt:fmtInt,side:'right',xlab:12,yearX:1150});
drawSet(pl,{hist:{x:l_histYears,mid:l_histMid,lo:l_histLo,hi:l_histHi},px:projYears5,curve:d3.curveLinear,
  p26:{mid:l_26Mid,lo:l_26Lo,hi:l_26Hi},p85:{mid:l_85Mid,lo:l_85Lo,hi:l_85Hi}});
titles(866,567,'(l)',['Near−surface permafrost area'],['change relative to 1986–2005']);
unitR(1554,540,'%');

// (m) global mean sea level
const pm={x:d3.scaleLinear().domain([1950,2300]).range([92,1493]),y:d3.scaleLinear().domain([0,5]).range([860,644])};
const mg=svg.append('g');
mg.append('line').attr('x1',92).attr('x2',1493).attr('y1',pm.y(0)).attr('y2',pm.y(0)).attr('stroke','#cfcfcf').attr('stroke-width',2);
pm.plot=mg.append('g').style('isolation','isolate');
const stepPx=pm.x(2102)-pm.x(2100);
const pr=defs.append('pattern').attr('id','hatchR').attr('patternUnits','userSpaceOnUse')
  .attr('x',pm.x(2100)).attr('y',0).attr('width',stepPx).attr('height',40);
pr.append('rect').attr('width',stepPx*0.72).attr('height',40).attr('fill','#f7c4b8');
const pb2=defs.append('pattern').attr('id','hatchB').attr('patternUnits','userSpaceOnUse')
  .attr('x',pm.x(2100)).attr('y',0).attr('width',stepPx).attr('height',40);
pb2.append('rect').attr('width',stepPx*0.72).attr('height',40).attr('fill','#8cb8dd');
area(pm,m_obsYears,m_obsLo,m_obsHi,COL.pur,{op:0.7});
area(pm,projYears10,m_85Lo,m_85Hi,COL.red,{curve:d3.curveMonotoneX});
area(pm,projYears10,m_26Lo,m_26Hi,COL.blue,{curve:d3.curveMonotoneX,blend:'multiply'});
area(pm,m_longYears,m_85LongLo,m_85LongHi,'url(#hatchR)');
area(pm,m_longYears,m_26LongLo,m_26LongHi,'url(#hatchB)');
line(pm,m_obsYears,m_obsMid,COL.purL,{w:1.3});
line(pm,projYears10,m_85Mid,COL.redL,{w:1.3,curve:d3.curveMonotoneX});
line(pm,projYears10,m_26Mid,COL.blueL,{w:1.5,curve:d3.curveMonotoneX});
line(pm,m_longYears,m_85LongMid,COL.redL,{w:1.4,dash:'4,4'});
line(pm,m_longYears,m_26LongMid,COL.blueL,{w:2,dash:`${stepPx*0.72},${stepPx*0.28}`});
// axes of (m)
const mTicks=d3.range(1950,2101,10).concat([2150,2200,2250,2300]);
mg.append('g').attr('transform','translate(0,869)')
  .call(d3.axisBottom(pm.x).tickValues(mTicks).tickSize(4).tickSizeOuter(0).tickFormat('')).call(styleAxis);
mg.append('g').attr('transform','translate(1493,0)')
  .call(d3.axisRight(pm.y).tickValues(d3.range(0,5.01,0.5)).tickSize(3).tickSizeOuter(0).tickFormat('')).call(styleAxis);
mg.append('line').attr('x1',1493).attr('x2',1493).attr('y1',625).attr('y2',869).attr('stroke',COL.frame);
mTickYears.forEach(v=>T(mg,pm.x(v),888,String(v),{fs:12.5,fw:'bold',ls:3.2,sx:1.2,anchor:'middle'}));
T(mg,792,898,'year',{fs:10,fw:'bold',ls:0.6,sx:1.2,anchor:'middle'});
[0,1,2,3,4,5].forEach(v=>T(mg,1506,pm.y(v)+4,String(v),{fs:10.5,fw:'bold',sx:1.2}));
unitR(1556,740,'metres');
// side range bars (2300)
const barG=mg.append('g').style('isolation','isolate');
barScen.forEach((s,i)=>{
  barG.append('rect').attr('x',1531).attr('width',18).attr('y',pm.y(barHi[i])).attr('height',pm.y(barLo[i])-pm.y(barHi[i]))
    .attr('fill',i===0?COL.red:'#8fb9dc').style('mix-blend-mode',i===0?'normal':'multiply');
  barG.append('line').attr('x1',1531).attr('x2',1549).attr('y1',pm.y(barMid[i])).attr('y2',pm.y(barMid[i]))
    .attr('stroke',i===0?COL.redL:COL.blueL).attr('stroke-width',1.4);
  barG.append('circle').attr('cx',1540).attr('cy',pm.y(barMid[i])-2.5).attr('r',1.3).attr('fill',i===0?COL.redL:COL.blueL);
});
// (m) title
T(svg,875,721,'(m)',{fs:12,fw:'bold',ls:0.6});
T(svg,918,721,'Global mean sea level',{fs:12,fw:'bold',ls:0.6});
T(svg,918,735,'change relative to 1986–2005',{fs:10,ls:0.3,sx:1.35,fill:'#333'});
// 2100 annotations
const ann=svg.append('g');
T(ann,694,740,m_labels2100[0],{fs:10,fw:'bold',ls:0.8,sx:1.2});
ann.append('path').attr('d','M695,745H742').attr('stroke',COL.redL).attr('stroke-width',1.5).attr('opacity',0.7);
ann.append('path').attr('d',`M716,745V792L${pm.x(2100)+3},${pm.y(0.84)}`).attr('stroke','#777').attr('fill','none');
T(ann,754,753,m_labels2100[1],{fs:10,fw:'bold',ls:0.8,sx:1.2});
ann.append('path').attr('d','M753,758H806').attr('stroke','#6d8fb3').attr('stroke-width',1.5);
ann.append('path').attr('d',`M777,758V790L${pm.x(2100)+22},${pm.y(0.45)}`).attr('stroke','#777').attr('fill','none');
// connectors
const con=svg.append('g').attr('stroke','#a5a5a5').attr('fill','none').attr('stroke-width',1.2);
con.append('path').attr('d','M92,512H612Q626,512 626,526V808Q626,822 612,822H92');
con.append('path').attr('d','M660,503H803Q815,503 815,491V375Q815,363 803,363H760');
con.append('path').attr('d','M752,503V645');
con.append('path').attr('d','M628,661H700');
con.append('path').attr('d','M865,661H968Q990,661 990,683V700');
svg.append('path').attr('d','M986,699L990,707L994,699Z').attr('fill','#a5a5a5');
T(svg,782,665,'primary drivers',{fs:12,fw:'bold',ls:0.8,sx:1.4,anchor:'middle'});
</script>
</body></html>
